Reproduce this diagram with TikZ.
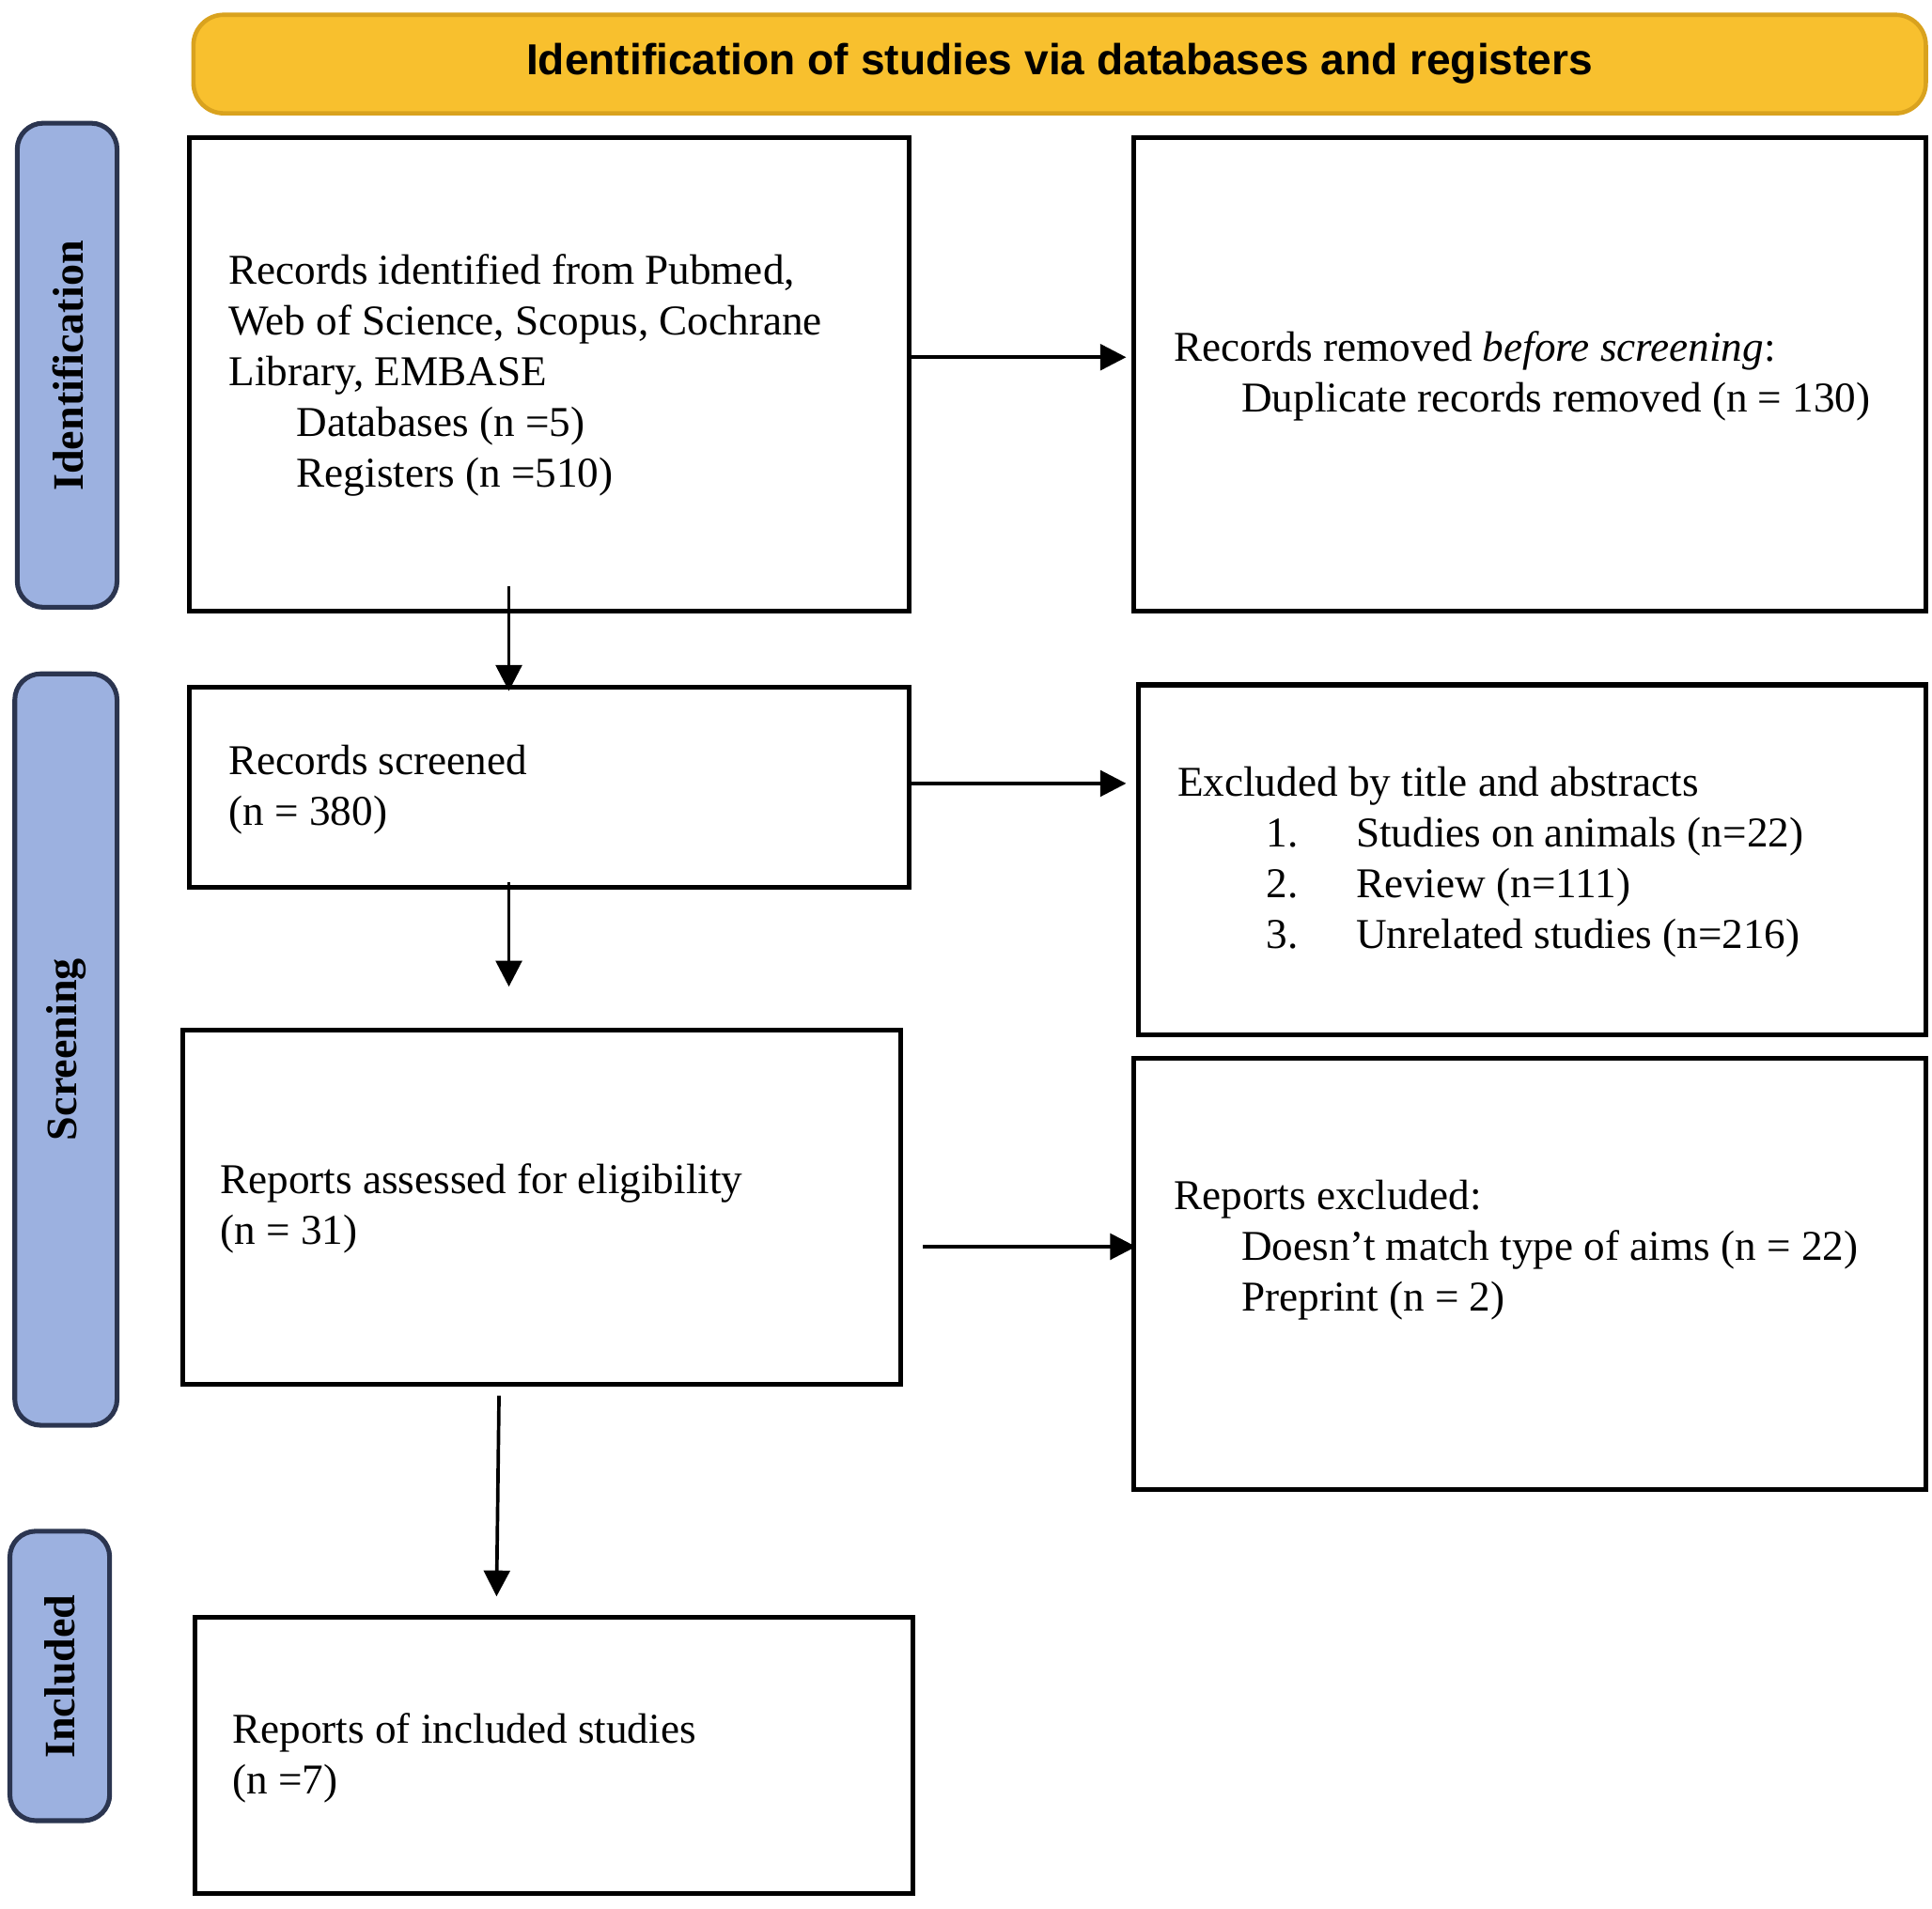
\documentclass[tikz,border=0pt]{standalone}
\usepackage{fontspec}
\setmainfont{Liberation Serif}
\newfontfamily\headfont{Liberation Sans}
\usetikzlibrary{positioning, arrows.meta}
\definecolor{headyellow}{HTML}{F8C02E}
\definecolor{headedge}{HTML}{D9A21E}
\definecolor{sideblue}{HTML}{9CB1E0}
\definecolor{sideedge}{HTML}{2B3550}
\begin{document}
\begin{tikzpicture}[
    x=0.01cm, y=-0.01cm,
    box/.style={draw=black, line width=1.1pt},
    txt/.style={anchor=north west, inner sep=0pt, align=left, font=\fontsize{9.8}{11.7}\selectfont},
    phase/.style={draw=sideedge, line width=1.1pt, fill=sideblue, rounded corners=6pt},
    phaselabel/.style={rotate=90, font=\bfseries\fontsize{10}{12}\selectfont},
    flow/.style={-{Triangle[length=6pt,width=6pt]}, line width=0.8pt}
]
    \useasboundingbox (0,0) rectangle (1568,1549);

    % header and phases
    \draw[draw=headedge, line width=1pt, fill=headyellow, rounded corners=7pt] (157,12) rectangle (1563,92);
    \node[font=\headfont\bfseries\fontsize{10}{12}\selectfont] (head) at (860,52) {Identification of studies via databases and registers};
    \draw[phase] (14,100) rectangle (95,493);
    \node[phaselabel] (pid) at (55,297) {Identification};
    \draw[phase] (12,547) rectangle (95,1157);
    \node[phaselabel] (psc) at (54,852) {Screening};
    \draw[phase] (8,1243) rectangle (89,1478);
    \node[phaselabel] (pin) at (49,1361) {Included};

    % boxes
    \draw[box] (154,112) rectangle (738,496);
    \draw[box] (920,112) rectangle (1563,496);
    \draw[box] (154,558) rectangle (738,720);
    \draw[box] (924,556) rectangle (1563,840);
    \draw[box] (148,836) rectangle (731,1124);
    \draw[box] (920,859) rectangle (1563,1209);
    \draw[box] (158,1313) rectangle (741,1537);

    % texts
    \node[txt] (ident) at (185,206) {Records identified from Pubmed,\\Web of Science, Scopus, Cochrane\\Library, EMBASE\\\hspace{0.55cm}Databases (n =5)\\\hspace{0.55cm}Registers (n =510)};
    \node[txt] (removed) at (952,268) {Records removed \textit{before screening}:\\\hspace{0.55cm}Duplicate records removed (n = 130)};
    \node[txt] (screened) at (185,604) {Records screened\\(n = 380)};
    \node[txt] (excl) at (955,622) {Excluded by title and abstracts\\\hspace{0.72cm}1.\hspace{0.47cm}Studies on animals (n=22)\\\hspace{0.72cm}2.\hspace{0.47cm}Review (n=111)\\\hspace{0.72cm}3.\hspace{0.47cm}Unrelated studies (n=216)};
    \node[txt] (assessed) at (178,944) {Reports assessed for eligibility\\(n = 31)};
    \node[txt] (repexcl) at (952,957) {Reports excluded:\\\hspace{0.55cm}Doesn’t match type of aims (n = 22)\\\hspace{0.55cm}Preprint (n = 2)};
    \node[txt] (included) at (188,1390) {Reports of included studies\\(n =7)};

    % connectors
    \coordinate (a1s) at (738,290);  \coordinate (a1e) at (914,290);
    \coordinate (d1s) at (413,476);  \coordinate (d1e) at (413,561);
    \coordinate (a2s) at (738,636);  \coordinate (a2e) at (914,636);
    \coordinate (d2s) at (413,716);  \coordinate (d2e) at (413,801);
    \coordinate (a3s) at (749,1012); \coordinate (a3e) at (922,1012);
    \coordinate (d3s) at (405,1133); \coordinate (d3e) at (403,1296);
    \draw[flow] (a1s) -- (a1e);
    \draw[flow] (d1s) -- (d1e);
    \draw[flow] (a2s) -- (a2e);
    \draw[flow] (d2s) -- (d2e);
    \draw[flow] (a3s) -- (a3e);
    \draw[flow] (d3s) -- (d3e);
\end{tikzpicture}
\end{document}
